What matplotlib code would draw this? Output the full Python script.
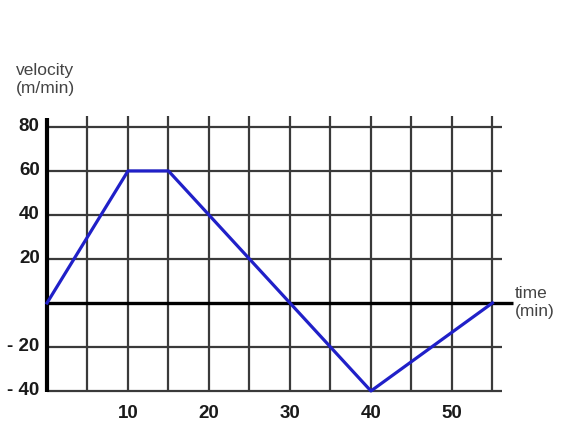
import matplotlib.pyplot as plt

# velocity-time graph data
time = [0, 10, 15, 40, 55]
velocity = [0, 60, 60, -40, 0]
x_grid = [5, 10, 15, 20, 25, 30, 35, 40, 45, 50, 55]
y_grid = [-40, -20, 20, 40, 60, 80]
y_ticks = [80, 60, 40, 20, -20, -40]
y_labels = ["80", "60", "40", "20", "- 20", "- 40"]
x_ticks = [10, 20, 30, 40, 50]

plt.rcParams['font.family'] = ['Liberation Sans', 'DejaVu Sans']

fig = plt.figure(figsize=(5.73, 4.42), dpi=100)
ax = fig.add_axes([0.0679, 0.0905, 0.848, 0.697])
ax.set_xlim(-1, 59)
ax.set_ylim(-45, 95)
ax.axis('off')

grid_color = '#3a3a3a'
for y in y_grid:
    ax.plot([0, 56.2], [y, y], color=grid_color, lw=1.6, solid_capstyle='butt', zorder=1)
for x in x_grid:
    ax.plot([x, x], [-40, 85], color=grid_color, lw=1.6, solid_capstyle='butt', zorder=1)

# axes
ax.plot([0, 57.5], [0, 0], color='black', lw=2.4, solid_capstyle='butt', zorder=2)
ax.plot([0, 0], [-40.5, 84], color='black', lw=3.0, solid_capstyle='butt', zorder=2)

ax.plot(time, velocity, color='#2020c8', lw=2.3, zorder=3, clip_on=False)

for y, lab in zip(y_ticks, y_labels):
    ax.text(-0.9, y, lab, ha='right', va='center', fontsize=13.5,
            fontweight='bold', color='#1a1a1a')
for x in x_ticks:
    ax.text(x, -46.5, str(x), ha='center', va='top', fontsize=13.5,
            fontweight='bold', color='#1a1a1a')

ax.text(-3.8, 101.5, "velocity\n(m/min)", ha='left', va='center', fontsize=12.5,
        color='#444444', linespacing=1.25)
ax.text(57.8, 0.3, "time\n(min)", ha='left', va='center', fontsize=12.5,
        color='#444444', linespacing=1.25, clip_on=False)

fig.savefig('out.png', dpi=100)
